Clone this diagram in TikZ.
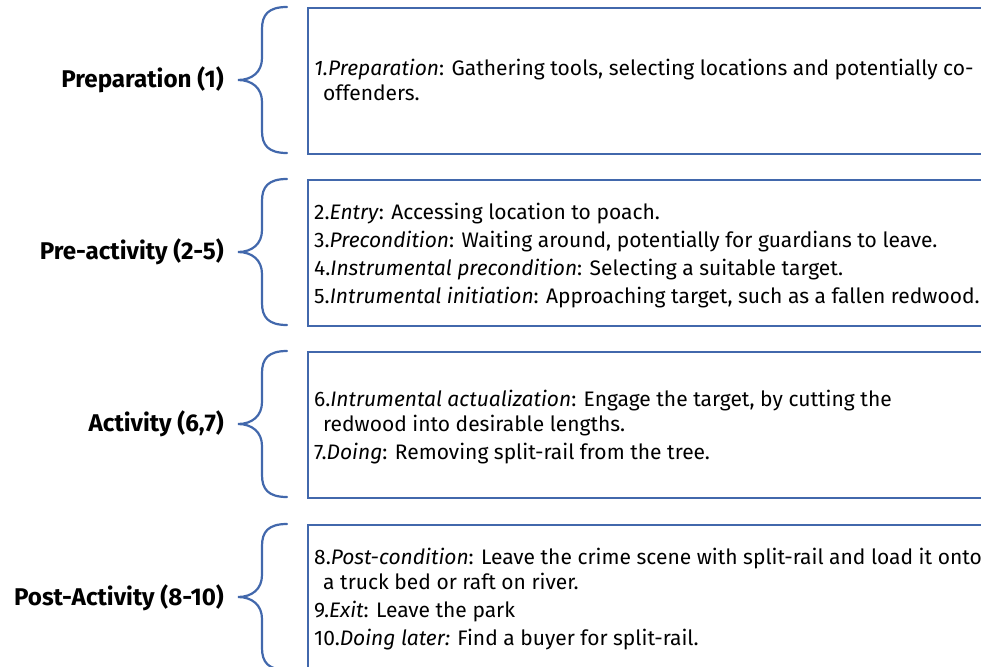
\documentclass[tikz,border=0pt]{standalone}
\usepackage{fontspec}
\setmainfont{Fira Sans}
\definecolor{bblue}{RGB}{66,104,172}
\tikzset{
  boxnode/.style={draw=bblue, line width=2pt, rectangle, minimum width=720pt, minimum height=146pt, anchor=north west, inner sep=0pt},
  bodytext/.style={anchor=west, align=left, inner sep=0pt, font=\fontsize{21}{25}\selectfont},
  labeltext/.style={anchor=east, inner sep=0pt, font=\fontsize{24.2}{27}\selectfont\bfseries},
  bracestyle/.style={draw=bblue, line width=2.2pt, line cap=round}
}
\newcommand{\bracepath}[2]{% #1 top y, #2 bottom y
  \draw[bracestyle] (287,#1) .. controls (268,#1) and (262,#1+8) .. (262,#1+22)
    -- (262,{(#1+#2)/2-22}) .. controls (262,{(#1+#2)/2-8}) and (252,{(#1+#2)/2}) .. (238,{(#1+#2)/2})
    .. controls (252,{(#1+#2)/2}) and (262,{(#1+#2)/2+8}) .. (262,{(#1+#2)/2+22})
    -- (262,#2-22) .. controls (262,#2-8) and (268,#2) .. (287,#2);}
\newcommand{\ci}{\hspace*{9pt}}
\begin{document}
\begin{tikzpicture}[x=1pt,y=-1pt]
\useasboundingbox (0,0) rectangle (981,666);
\clip (0,0) rectangle (981,666);
% boxes
\node[boxnode] (b1) at (307,7) {};
\node[boxnode] (b2) at (307,179) {};
\node[boxnode] (b3) at (307,351) {};
\node[boxnode] (b4) at (307,524) {};
% braces
\bracepath{7}{153}
\bracepath{179}{325}
\bracepath{351}{497}
\bracepath{524}{670}
% labels
\node[labeltext] (l1) at (224,80) {Preparation (1)};
\node[labeltext] (l2) at (224,252) {Pre-activity (2-5)};
\node[labeltext] (l3) at (224,424) {Activity (6,7)};
\node[labeltext] (l4) at (224,598) {Post-Activity (8-10)};
% texts
\node[bodytext] (t1) at (314,80) {\textit{1.Preparation}: Gathering tools, selecting locations and potentially co-\\\ci offenders.};
\node[bodytext] (t2) at (314,255.5) {2.\textit{Entry}: Accessing location to poach.\\[3pt]
3.\textit{Precondition}: Waiting around, potentially for guardians to leave.\\[3pt]
4.\textit{Instrumental precondition}: Selecting a suitable target.\\[3pt]
5.\textit{Intrumental initiation}: Approaching target, such as a fallen redwood.};
\node[bodytext] (t3) at (314,427) {6.\textit{Intrumental actualization}: Engage the target, by cutting the\\\ci redwood into desirable lengths.\\[3pt]
7.\textit{Doing}: Removing split-rail from the tree.};
\node[bodytext] (t4) at (314,599) {8.\textit{Post-condition}: Leave the crime scene with split-rail and load it onto\\\ci a truck bed or raft on river.\\[3pt]
9.\textit{Exit}: Leave the park\\[3pt]
10.\textit{Doing later:} Find a buyer for split-rail.};
\end{tikzpicture}
\end{document}
